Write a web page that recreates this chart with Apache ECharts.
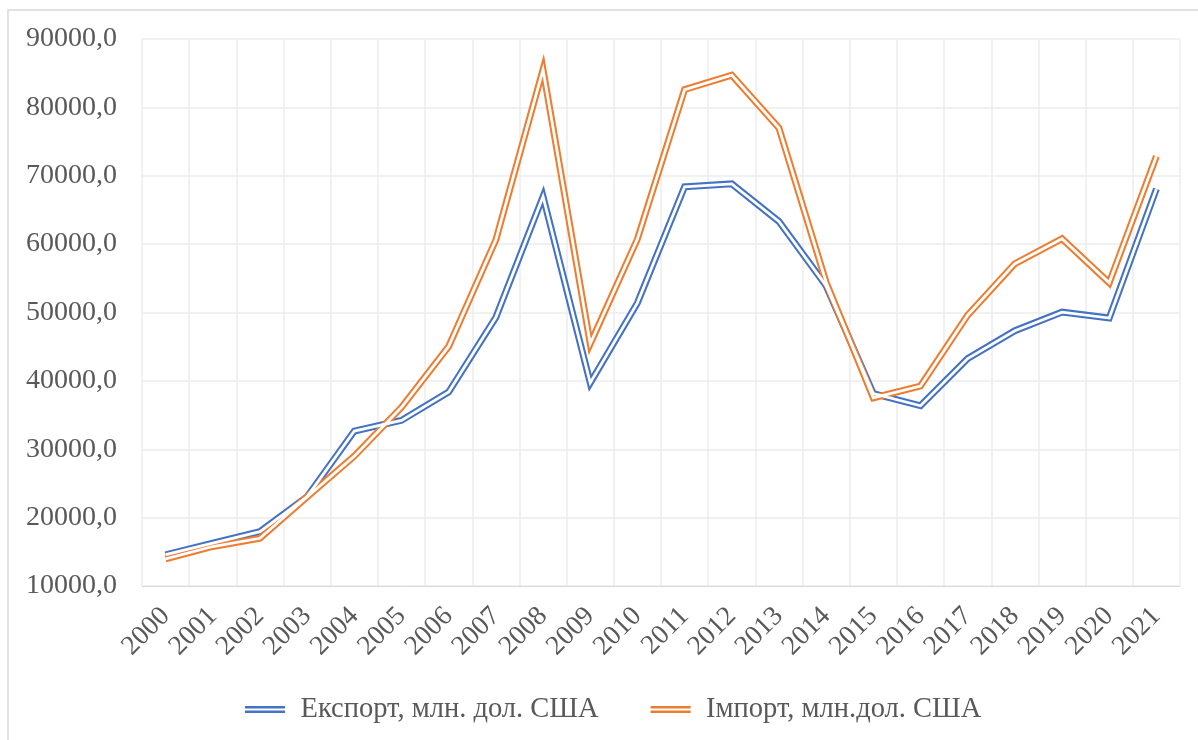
<!DOCTYPE html>
<html>
<head>
<meta charset="utf-8">
<script src="https://cdn.jsdelivr.net/npm/echarts@6/dist/echarts.min.js"></script>
<style>html,body{margin:0;padding:0;background:#fff}#c{width:1198px;height:740px}</style>
</head>
<body>
<div id="c"></div>
<script>
const years = ['2000','2001','2002','2003','2004','2005','2006','2007','2008','2009','2010','2011','2012','2013','2014','2015','2016','2017','2018','2019','2020','2021'];
const exportVals = [14573,16265,17957,23067,32666,34228,38368,49296,66967,39696,51405,68394,68810,63312,53902,38127,36361,43265,47335,50054,49191,68072];
const importVals = [13956,15775,16977,23021,28997,36136,45039,60618,85535,45433,60742,82608,84718,76986,54429,37516,39250,49607,57141,60800,54336,72843];
const exportName = 'Експорт, млн. дол. США';
const importName = 'Імпорт, млн.дол. США';
const blue = '#4472C4', orange = '#ED7D31';

const chart = echarts.init(document.getElementById('c'), null, {renderer:'canvas'});
const font = 'Liberation Serif';
function outer(name, data, color){
  return {name, type:'line', data, symbol:'none', color, animation:false,
    lineStyle:{color, width:6.9, join:'miter', cap:'butt'}, z:2};
}
function inner(name, data){
  return {name: name+' ', type:'line', data, symbol:'none', animation:false, color:'#fff',
    lineStyle:{color:'#fff', width:2.8, join:'miter', cap:'butt'}, z:3, silent:true};
}
chart.setOption({
  backgroundColor:'#fff',
  textStyle:{fontFamily:font},
  graphic:[{type:'rect', shape:{x:8,y:10,width:1400,height:1000}, style:{fill:'none', stroke:'#d9d9d9', lineWidth:1.5}, silent:true}],
  grid:{left:142, right:18, top:39, bottom:154},
  legend:{
    data:[exportName, importName], top:690, left:240,
    icon:'path://M0,0H40V2.5H0Z M0,4.5H40V7H0Z', itemWidth:45, itemHeight:7, itemGap:52,
    textStyle:{fontFamily:font, fontSize:28.5, color:'#595959', padding:[0,0,0,8]}
  },
  xAxis:{
    type:'category', data:years, boundaryGap:true,
    axisLine:{show:true, lineStyle:{color:'#d9d9d9', width:1}},
    axisTick:{show:false},
    splitLine:{show:true, lineStyle:{color:'#ececec', width:1.5}},
    axisLabel:{rotate:45, fontFamily:font, fontSize:27.5, color:'#595959', margin:26, interval:0}
  },
  yAxis:{
    type:'value', min:10000, max:90000, interval:10000,
    axisLine:{show:false}, axisTick:{show:false},
    splitLine:{show:true, lineStyle:{color:'#ececec', width:1.5}},
    axisLabel:{fontFamily:font, fontSize:28, color:'#595959', margin:25,
      formatter:v=>v.toFixed(1).replace('.',',')}
  },
  series:[
    outer(exportName, exportVals, blue), inner(exportName, exportVals),
    outer(importName, importVals, orange), inner(importName, importVals)
  ]
});
</script>
</body>
</html>
